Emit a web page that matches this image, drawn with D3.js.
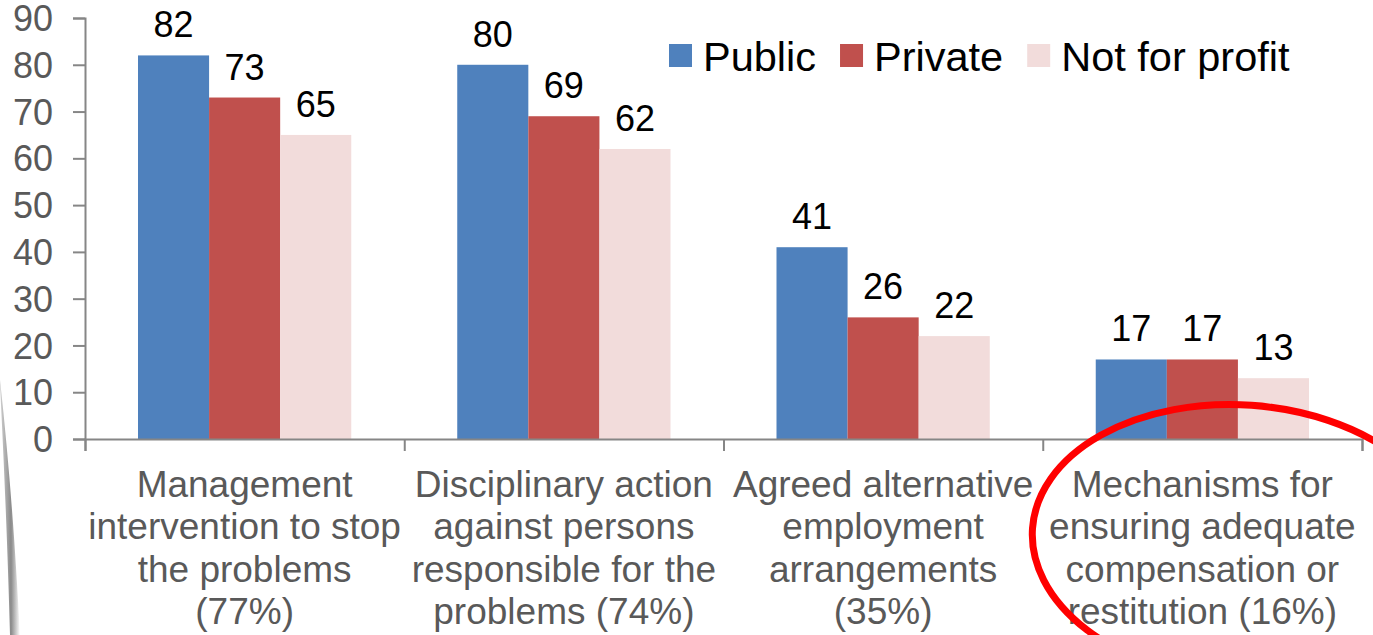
<!DOCTYPE html>
<html>
<head>
<meta charset="utf-8">
<script src="https://cdn.jsdelivr.net/npm/d3@7"></script>
<style>
  body { margin: 0; background: #fff; }
  svg { display: block; font-family: "Liberation Sans", Arial, sans-serif; }
</style>
</head>
<body>
<div class="chart"></div>
<script>
// data
const categories = [
    ["Management", "intervention to stop", "the problems", "(77%)"],
    ["Disciplinary action", "against persons", "responsible for the", "problems (74%)"],
    ["Agreed alternative", "employment", "arrangements", "(35%)"],
    ["Mechanisms for", "ensuring adequate", "compensation or", "restitution (16%)"]
];
const seriesNames = ["Public", "Private", "Not for profit"];
const publicValues = [82, 80, 41, 17];
const privateValues = [73, 69, 26, 17];
const notForProfitValues = [65, 62, 22, 13];
const yTicks = [0, 10, 20, 30, 40, 50, 60, 70, 80, 90];

const colors = ["#4F81BD", "#C0504D", "#F2DCDB"];
const series = [publicValues, privateValues, notForProfitValues];

const W = 1373, H = 635;
const plot = { left: 85, right: 1362, top: 18, bottom: 439 };

const svg = d3.select(".chart")
    .append("svg")
    .attr("width", W)
    .attr("height", H);

// left page-curl shadow
const defs = svg.append("defs");
const grad = defs.append("linearGradient").attr("id", "shade")
    .attr("x1", "0").attr("x2", "1").attr("y1", "0").attr("y2", "0");
grad.append("stop").attr("offset", "0").attr("stop-color", "#d0d0d0");
grad.append("stop").attr("offset", "0.55").attr("stop-color", "#8a8a8a");
grad.append("stop").attr("offset", "0.75").attr("stop-color", "#bdbdbd");
grad.append("stop").attr("offset", "1").attr("stop-color", "#ffffff");
svg.append("path")
    .attr("d", "M0,385 C4,460 8,560 10,635 L20,635 C16,560 10,470 0,380 Z")
    .attr("fill", "url(#shade)");

const x0 = d3.scaleBand()
    .domain(d3.range(categories.length))
    .range([plot.left, plot.right])
    .paddingInner(0.332)
    .paddingOuter(0.166);

const x1 = d3.scaleBand()
    .domain(d3.range(seriesNames.length))
    .range([0, x0.bandwidth()]);

const y = d3.scaleLinear()
    .domain([0, 90])
    .range([plot.bottom, plot.top]);

// axes
const yAxis = svg.append("g")
    .attr("transform", "translate(" + plot.left + ",0)")
    .call(d3.axisLeft(y).tickValues(yTicks).tickSize(12).tickPadding(20));
yAxis.select(".domain").attr("stroke", "#868686").attr("stroke-width", 2);
yAxis.selectAll(".tick line").attr("stroke", "#868686").attr("stroke-width", 2);
yAxis.selectAll(".tick text")
    .attr("fill", "#595959")
    .style("font-size", "36px")
    .attr("dy", "0.35em");

// bars
series.forEach(function (vals, s) {
    svg.selectAll(".bar-" + s)
        .data(vals)
        .enter()
        .append("rect")
        .attr("class", "bar-" + s)
        .attr("x", (d, i) => x0(i) + x1(s))
        .attr("width", x1.bandwidth())
        .attr("y", d => y(d))
        .attr("height", d => plot.bottom - y(d))
        .attr("fill", colors[s]);

    svg.selectAll(".lab-" + s)
        .data(vals)
        .enter()
        .append("text")
        .attr("class", "lab-" + s)
        .attr("x", (d, i) => x0(i) + x1(s) + x1.bandwidth() / 2)
        .attr("y", d => y(d) - 18)
        .attr("text-anchor", "middle")
        .attr("fill", "#000")
        .style("font-size", "36px")
        .text(d => d);
});

const xTick = d3.scaleLinear().domain([0, categories.length]).range([plot.left, plot.right]);
const xAxis = svg.append("g")
    .attr("transform", "translate(0," + plot.bottom + ")")
    .call(d3.axisBottom(xTick).tickValues(d3.range(categories.length + 1)).tickSize(12).tickFormat(""));
xAxis.select(".domain").attr("stroke", "#868686").attr("stroke-width", 2);
xAxis.selectAll(".tick line").attr("stroke", "#868686").attr("stroke-width", 2);

// category labels
categories.forEach(function (lines, i) {
    const t = svg.append("text")
        .attr("text-anchor", "middle")
        .attr("fill", "#595959")
        .style("font-size", "37px");
    lines.forEach(function (ln, k) {
        t.append("tspan")
            .attr("x", x0(i) + x0.bandwidth() / 2)
            .attr("y", 497 + k * 42.3)
            .text(ln);
    });
});

// legend
const legend = svg.append("g");
let lx = 669;
seriesNames.forEach(function (name, s) {
    legend.append("rect")
        .attr("x", lx).attr("y", 44)
        .attr("width", 23).attr("height", 23)
        .attr("fill", colors[s]);
    const txt = legend.append("text")
        .attr("x", lx + 34).attr("y", 71)
        .attr("fill", "#000")
        .style("font-size", "41.5px")
        .text(name);
    lx = lx + 34 + txt.node().getComputedTextLength() + 24;
});

// red circle annotation
svg.append("ellipse")
    .attr("cx", 1242).attr("cy", 543)
    .attr("rx", 210).attr("ry", 138)
    .attr("transform", "rotate(4 1242 543)")
    .attr("fill", "none")
    .attr("stroke", "#FF0000")
    .attr("stroke-width", 7);
</script>
</body>
</html>
